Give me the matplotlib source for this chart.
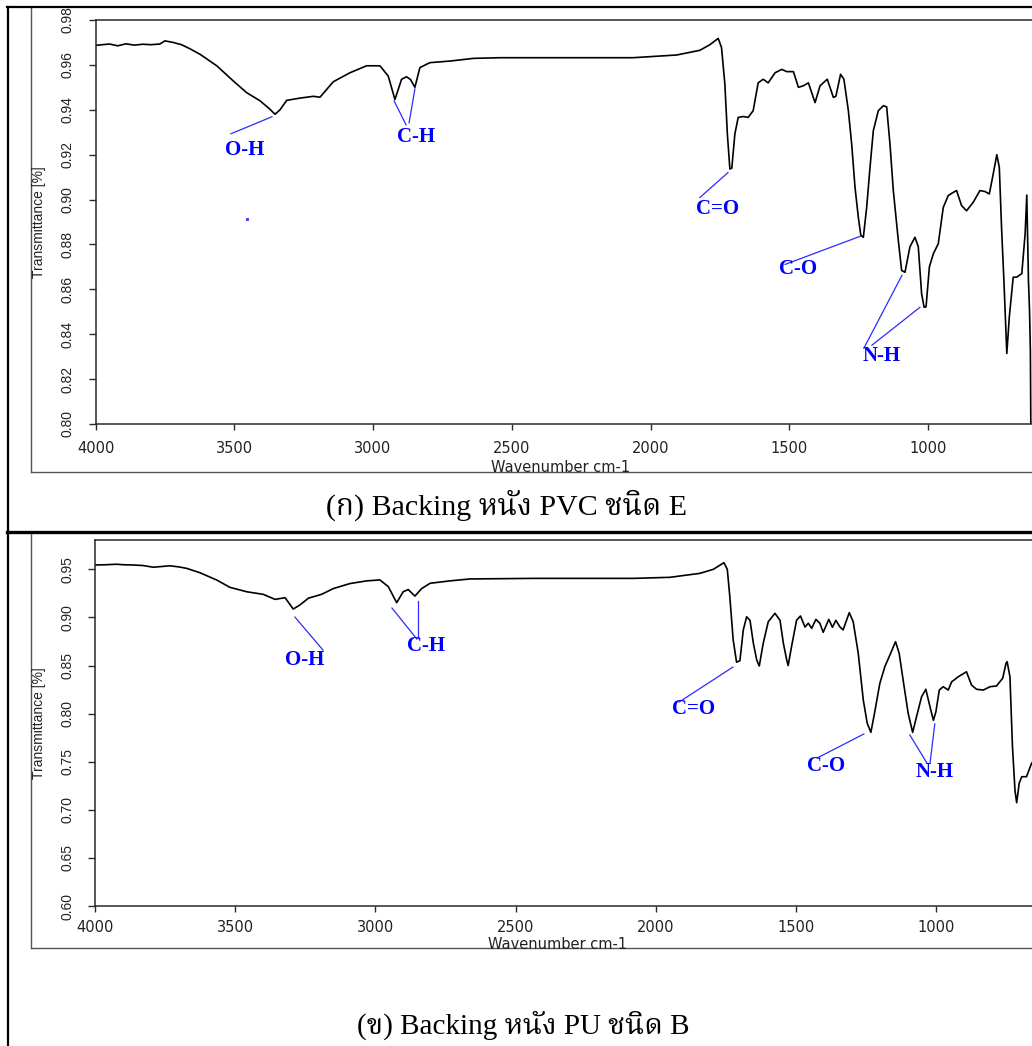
import matplotlib
matplotlib.use("Agg")
import matplotlib.pyplot as plt
from matplotlib import font_manager
from matplotlib.ft2font import FT2Font
from matplotlib.lines import Line2D
from matplotlib.ticker import FormatStrFormatter

W, H = 1032, 1046


def find_thai_font():
    prefer = ["Laksaman", "Norasi", "Kinnari", "Noto Serif Thai", "TH Sarabun New",
              "Garuda", "Loma", "Noto Sans Thai", "Waree", "Umpush", "Sawasdee", "Tlwg Typo"]
    found = {}
    for f in font_manager.fontManager.ttflist:
        try:
            if FT2Font(f.fname).get_char_index(0x0E01):
                found.setdefault(f.name, f.fname)
        except Exception:
            pass
    for p in prefer:
        if p in found:
            return p
    return next(iter(found), "DejaVu Sans")


THAI = find_thai_font()

# ---- spectrum (ก) PVC, wavenumber cm-1 / transmittance
pvc_wn = [4000, 3950, 3920, 3890, 3860, 3830, 3800, 3768, 3750, 3720, 3690, 3660, 3623, 3563,
          3504, 3455, 3407, 3371, 3353, 3335, 3311, 3263, 3215, 3191, 3143, 3083, 3023, 2975,
          2945, 2921, 2897, 2879, 2865, 2849, 2831, 2795, 2723, 2638, 2542, 2063, 1906, 1822,
          1786, 1756, 1744, 1732, 1723, 1714, 1707, 1696, 1684, 1666, 1648, 1630, 1612, 1594,
          1576, 1551, 1527, 1509, 1485, 1467, 1449, 1431, 1407, 1389, 1363, 1341, 1332, 1315,
          1303, 1287, 1275, 1263, 1251, 1242, 1233, 1221, 1209, 1197, 1179, 1161, 1149, 1137,
          1125, 1107, 1095, 1083, 1065, 1047, 1035, 1023, 1014, 1007, 995, 981, 963, 945, 927,
          909, 897, 879, 861, 837, 813, 795, 779, 765, 752, 743, 735, 726, 716, 707, 693, 681,
          662, 650, 644, 638, 634, 631, 629]
pvc_t = [0.9687, 0.9693, 0.9685, 0.9694, 0.9688, 0.9692, 0.9690, 0.9693, 0.9707, 0.9700,
         0.9690, 0.9672, 0.9647, 0.9596, 0.9529, 0.9476, 0.9440, 0.9402, 0.9380, 0.9400,
         0.9442, 0.9452, 0.9460, 0.9456, 0.9525, 0.9565, 0.9596, 0.9596, 0.9550, 0.9446,
         0.9536, 0.9547, 0.9535, 0.9500, 0.9588, 0.9610, 0.9617, 0.9629, 0.9632, 0.9632,
         0.9644, 0.9665, 0.9690, 0.9718, 0.9677, 0.9514, 0.9292, 0.9136, 0.9140, 0.9292,
         0.9366, 0.9370, 0.9366, 0.9396, 0.9520, 0.9536, 0.9520, 0.9565, 0.9580, 0.9570,
         0.9570, 0.9500, 0.9507, 0.9520, 0.9432, 0.9507, 0.9536, 0.9455, 0.9460, 0.9558,
         0.9536, 0.9396, 0.9247, 0.9054, 0.8920, 0.8840, 0.8832, 0.8965, 0.9143, 0.9307,
         0.9396, 0.9418, 0.9413, 0.9247, 0.9040, 0.8818, 0.8684, 0.8676, 0.8790, 0.8832,
         0.8790, 0.8580, 0.8520, 0.8522, 0.8700, 0.8758, 0.8803, 0.8965, 0.9018, 0.9032,
         0.9040, 0.8973, 0.8950, 0.8988, 0.9040, 0.9036, 0.9025, 0.9114, 0.9200, 0.9143,
         0.8877, 0.8625, 0.8314, 0.8477, 0.8654, 0.8654, 0.8670, 0.8847, 0.9020, 0.8640,
         0.8500, 0.8320, 0.7900]

# ---- spectrum (ข) PU
pu_wn = [4000, 3960, 3923, 3900, 3863, 3830, 3792, 3760, 3733, 3700, 3673, 3626, 3566, 3519,
         3459, 3400, 3358, 3322, 3293, 3269, 3239, 3192, 3150, 3091, 3031, 2984, 2954, 2924,
         2901, 2883, 2859, 2835, 2805, 2734, 2663, 2437, 2080, 1950, 1843, 1795, 1757, 1745,
         1736, 1724, 1712, 1700, 1688, 1676, 1664, 1652, 1640, 1631, 1617, 1599, 1575, 1557,
         1545, 1533, 1528, 1516, 1498, 1484, 1468, 1456, 1444, 1429, 1415, 1403, 1383, 1370,
         1358, 1343, 1332, 1310, 1296, 1278, 1260, 1246, 1233, 1219, 1201, 1183, 1165, 1145,
         1132, 1118, 1100, 1084, 1070, 1052, 1037, 1022, 1010, 1001, 989, 975, 957, 945, 921,
         892, 874, 856, 832, 808, 785, 763, 751, 747, 737, 728, 719, 713, 704, 695, 678, 660,
         640]
pu_t = [0.9545, 0.9548, 0.9553, 0.9548, 0.9545, 0.9540, 0.9522, 0.9530, 0.9537, 0.9525,
        0.9510, 0.9465, 0.9389, 0.9313, 0.9267, 0.9240, 0.9188, 0.9205, 0.9087, 0.9130,
        0.9200, 0.9240, 0.9300, 0.9352, 0.9380, 0.9390, 0.9320, 0.9153, 0.9267, 0.9290,
        0.9222, 0.9300, 0.9355, 0.9380, 0.9400, 0.9406, 0.9406, 0.9417, 0.9458, 0.9500,
        0.9569, 0.9500, 0.9215, 0.8765, 0.8535, 0.8550, 0.8870, 0.9007, 0.8970, 0.8730,
        0.8557, 0.8495, 0.8730, 0.8955, 0.9043, 0.8970, 0.8730, 0.8557, 0.8500, 0.8695,
        0.8970, 0.9015, 0.8900, 0.8940, 0.8887, 0.8980, 0.8940, 0.8845, 0.8980, 0.8897,
        0.8970, 0.8900, 0.8870, 0.9050, 0.8955, 0.8627, 0.8140, 0.7900, 0.7805, 0.8020,
        0.8315, 0.8490, 0.8610, 0.8748, 0.8627, 0.8350, 0.8003, 0.7805, 0.7970, 0.8176,
        0.8253, 0.8070, 0.7930, 0.8020, 0.8245, 0.8280, 0.8245, 0.8330, 0.8384, 0.8435,
        0.8297, 0.8253, 0.8245, 0.8280, 0.8287, 0.8367, 0.8523, 0.8540, 0.8384, 0.7656,
        0.7200, 0.7074, 0.7276, 0.7344, 0.7344, 0.7483, 0.7550]

# peak labels: (text, text wn, text T, [leader lines as (wn1, t1, wn2, t2)])
pvc_peaks = [
    ("O-H", 3461, 0.9222, [(3512, 0.9293, 3364, 0.9369)]),
    ("C-H", 2845, 0.9280, [(2924, 0.9440, 2881, 0.9333), (2849, 0.9493, 2870, 0.9342)]),
    ("C=O", 1757, 0.8960, [(1721, 0.9120, 1822, 0.9009)]),
    ("C-O", 1468, 0.8689, [(1245, 0.8836, 1515, 0.8711)]),
    ("N-H", 1166, 0.8302, [(1094, 0.8662, 1231, 0.8338), (1029, 0.8520, 1202, 0.8351)]),
]
pu_peaks = [
    ("O-H", 3251, 0.8557, [(3287, 0.9004, 3187, 0.8661)]),
    ("C-H", 2820, 0.8703, [(2941, 0.9098, 2852, 0.8775), (2848, 0.9170, 2848, 0.8786)]),
    ("C=O", 1867, 0.8048, [(1725, 0.8484, 1917, 0.8120)]),
    ("C-O", 1393, 0.7455, [(1258, 0.7788, 1425, 0.7538)]),
    ("N-H", 1005, 0.7393, [(1094, 0.7778, 1033, 0.7486), (1005, 0.7892, 1022, 0.7486)]),
]

pvc_yticks = [0.80, 0.82, 0.84, 0.86, 0.88, 0.90, 0.92, 0.94, 0.96, 0.98]
pu_yticks = [0.60, 0.65, 0.70, 0.75, 0.80, 0.85, 0.90, 0.95]
xticks = [4000, 3500, 3000, 2500, 2000, 1500, 1000]

captions = ["(ก) Backing หนัง PVC ชนิด E", "(ข) Backing หนัง PU ชนิด B"]


def fx(x):
    return x / W


def fy(y):
    return 1 - y / H


fig = plt.figure(figsize=(W / 100, H / 100), dpi=100)


def hline(y, x0, x1, **kw):
    fig.add_artist(Line2D([fx(x0), fx(x1)], [fy(y), fy(y)], **kw))


def vline(x, y0, y1, **kw):
    fig.add_artist(Line2D([fx(x), fx(x)], [fy(y0), fy(y1)], **kw))


def panel(left, top, bottom, px500, ylim, yticks, wn, t, peaks, xpad):
    width = (4000 - 400) / 500 * px500
    ax = fig.add_axes([fx(left), fy(bottom), width / W, (bottom - top) / H])
    ax.plot(wn, t, color="black", lw=1.2)
    ax.set_xlim(4000, 400)
    ax.set_ylim(*ylim)
    ax.set_xticks(xticks)
    ax.set_yticks(yticks)
    ax.yaxis.set_major_formatter(FormatStrFormatter("%.2f"))
    for s in ax.spines.values():
        s.set_color("#2a2a2a")
        s.set_linewidth(1.1)
    ax.tick_params(axis="x", direction="out", length=4, width=1, pad=xpad,
                   labelsize=10.5, colors="#2a2a2a")
    ax.tick_params(axis="y", direction="out", length=5, width=1, pad=10,
                   labelsize=10, colors="#2a2a2a")
    for lab in ax.get_xticklabels():
        lab.set_fontfamily("DejaVu Sans")
        lab.set_color("#222222")
    for lab in ax.get_yticklabels():
        lab.set_rotation(90)
        lab.set_va("center")
        lab.set_ha("right")
        lab.set_fontfamily("Liberation Sans")
        lab.set_color("#222222")
    for text, tw, tt, lines in peaks:
        for w1, t1, w2, t2 in lines:
            ax.plot([w1, w2], [t1, t2], color="#2b2bff", lw=0.9)
        ax.text(tw, tt, text, color="#0000ff", fontsize=15, fontweight="bold",
                family="Liberation Serif", ha="center", va="center")
    return ax


ax1 = panel(95.5, 20, 424, 138.75, (0.80, 0.98), pvc_yticks, pvc_wn, pvc_t, pvc_peaks, 8)
ax1.plot([3454], [0.8915], "s", color="#4040ff", ms=1.2)
ax2 = panel(95, 540, 906, 140.2, (0.60, 0.9805), pu_yticks, pu_wn, pu_t, pu_peaks, 6)

# chart image frames (grey)
vline(31, 8, 472, color="#555555", lw=1.0)
hline(472, 31, W, color="#555555", lw=1.0)
vline(31, 534, 948, color="#555555", lw=1.0)
hline(948, 31, W, color="#555555", lw=1.0)

# axis titles
for yc in [222, 723]:
    fig.text(fx(38.5), fy(yc), "Transmittance [%]", rotation=90, ha="center", va="center",
             family="Liberation Sans", fontsize=10, color="#222222")
fig.text(fx(561), fy(472), "Wavenumber cm-1", ha="center", va="baseline",
         family="DejaVu Sans", fontsize=10.5, color="#222222")
fig.text(fx(558), fy(949), "Wavenumber cm-1", ha="center", va="baseline",
         family="DejaVu Sans", fontsize=10.5, color="#222222")

# table borders
vline(7.5, 7, H, color="black", lw=1.6)
hline(7, 7, W, color="black", lw=1.6)
hline(532, 7, W, color="black", lw=2.4)

fig.text(fx(507), fy(505), captions[0], family=["Liberation Serif", THAI],
         fontsize=21.5, ha="center", va="center", color="black")
fig.text(fx(523), fy(1025), captions[1], family=["Liberation Serif", THAI],
         fontsize=21, ha="center", va="center", color="black")

fig.savefig("out.png", dpi=100)
